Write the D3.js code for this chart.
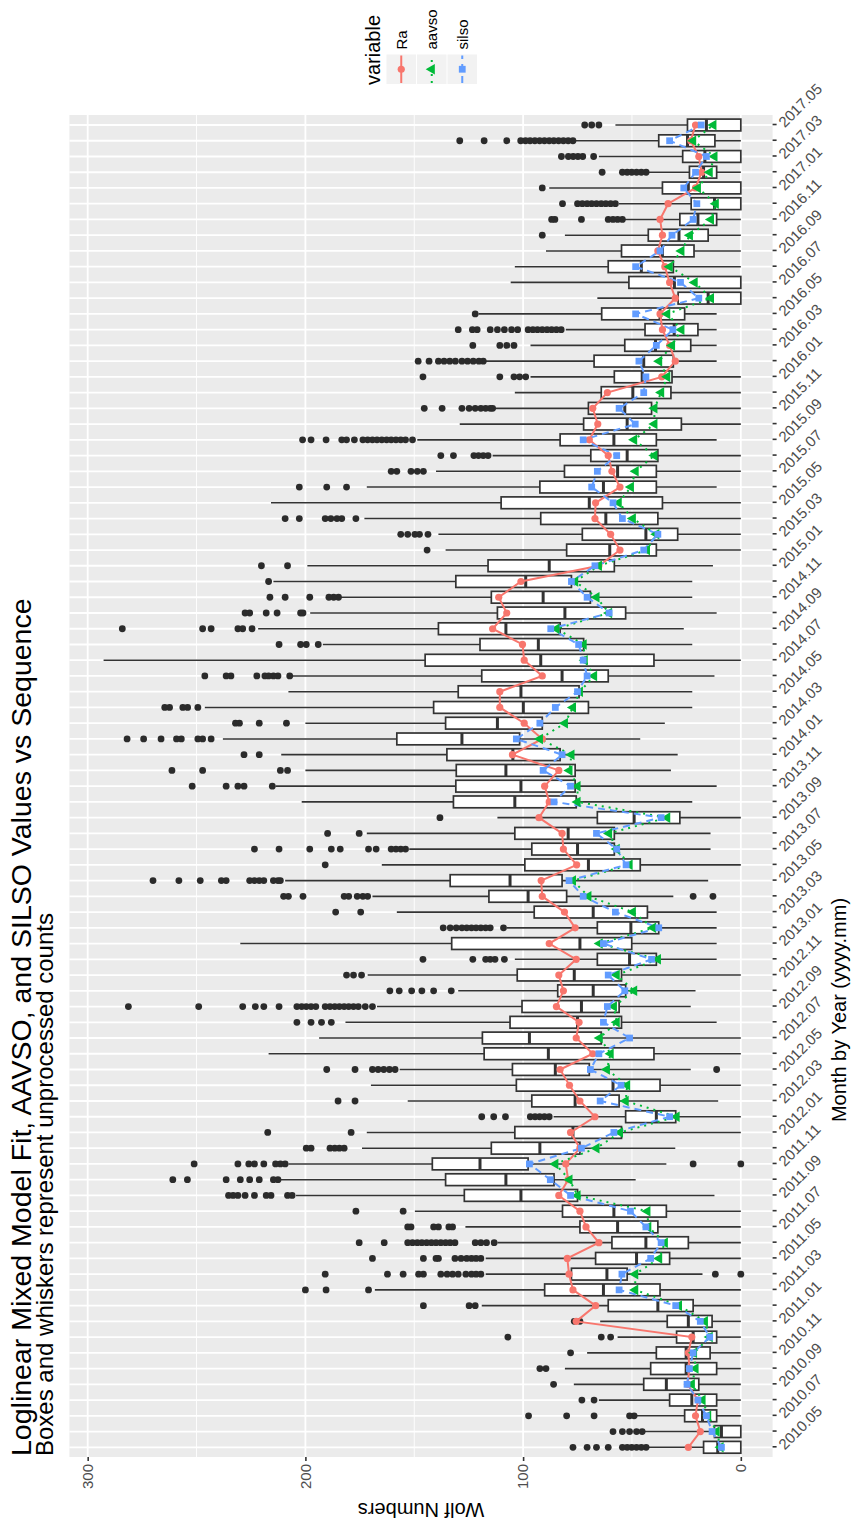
<!DOCTYPE html>
<html><head><meta charset="utf-8">
<script src="https://cdn.jsdelivr.net/npm/d3@7"></script>
<style>
body{margin:0;background:#fff;}
text{font-family:"Liberation Sans",Arial,Helvetica,sans-serif;}
</style></head>
<body>
<script>
const months = ["2010.05","2010.06","2010.07","2010.08","2010.09","2010.10","2010.11","2010.12",
"2011.01","2011.02","2011.03","2011.04","2011.05","2011.06","2011.07","2011.08","2011.09","2011.10","2011.11","2011.12",
"2012.01","2012.02","2012.03","2012.04","2012.05","2012.06","2012.07","2012.08","2012.09","2012.10","2012.11","2012.12",
"2013.01","2013.02","2013.03","2013.04","2013.05","2013.06","2013.07","2013.08","2013.09","2013.10","2013.11","2013.12",
"2014.01","2014.02","2014.03","2014.04","2014.05","2014.06","2014.07","2014.08","2014.09","2014.10","2014.11","2014.12",
"2015.01","2015.02","2015.03","2015.04","2015.05","2015.06","2015.07","2015.08","2015.09","2015.10","2015.11","2015.12",
"2016.01","2016.02","2016.03","2016.04","2016.05","2016.06","2016.07","2016.08","2016.09","2016.10","2016.11","2016.12",
"2017.01","2017.02","2017.03","2017.04","2017.05"];

const whiskLo = [0,0,0,0,0,0,0,0,0,0,0,17.6,0,0,0,0,12.1,48.3,34.2,30.1,0,0,10.4,0,23.0,0,0,11.1,23.0,20.8,0,11.1,11.1,11.1,11.1,31.0,15.0,0,13.9,13.9,0,22.3,11.1,32.1,29.0,46.2,34.9,22.3,22.3,12.1,0,22.3,26.2,11.1,22.3,22.3,12.8,0,0,0,0,11.1,0,0,11.1,0,0,0,0,11.1,11.1,11.1,11.1,0,0,0,0,0,0,0,0,0,0,0,0];
const q1 = [0,0,11.1,11.1,19.3,11.1,14.1,11.1,13.2,21.9,37.1,52.2,32.7,24.1,38.1,34.2,75.0,85.8,97.7,73.9,54.8,29.9,55.9,37.1,69.6,39.9,64.1,54.8,55.9,52.9,54.8,38.8,50.1,37.7,42.9,80.0,82.1,46.2,58.1,58.1,28.0,75.6,76.1,76.1,83.0,101.6,91.2,70.0,74.3,60.9,39.9,72.2,83.0,52.9,69.1,77.8,58.1,38.8,29.0,38.1,36.0,38.8,38.8,38.1,38.8,27.3,41.0,32.1,31.6,31.0,23.0,19.7,25.8,0,0,31.0,21.5,15.0,11.1,0,0,11.1,0,11.9,0];
const median = [10.6,8.9,17.6,22.5,34.2,25.1,25.1,21.9,24.1,38.1,63.1,61.5,47.9,43.6,56.6,58.3,101.0,107.9,119.8,92.3,77.1,38.8,76.1,58.7,85.2,88.4,97.1,75.0,73.2,67.8,76.5,51.1,73.9,50.5,67.8,97.7,106.0,70.0,75.0,79.3,49.0,103.8,101.0,107.9,104.7,128.1,111.8,99.9,101.0,82.1,91.9,93.0,107.9,80.8,90.8,98.8,88.0,60.2,43.6,62.0,69.6,63.1,56.6,52.2,58.3,52.2,53.3,49.6,45.3,44.6,39.2,30.6,37.1,15.0,30.5,45.7,36.0,28.4,19.7,12.1,24.1,17.1,16.5,24.5,15.8];
const q3 = [17.1,12.1,25.8,32.7,44.6,41.4,38.8,29.5,33.8,60.9,90.1,77.8,66.7,59.2,73.9,81.9,127.0,135.6,141.7,114.6,103.8,52.9,96.0,103.1,104.9,117.9,118.7,106.0,100.5,84.1,102.7,65.9,132.8,65.9,94.9,115.7,133.5,99.2,96.0,103.8,65.9,132.0,130.9,130.7,135.0,158.0,135.6,141.1,129.8,119.0,145.0,119.8,138.9,111.8,114.6,130.9,116.1,80.0,72.8,91.9,110.1,92.3,81.0,68.9,83.0,72.2,70.0,64.1,58.1,67.4,53.3,44.0,63.9,28.8,51.4,60.9,54.8,42.5,28.0,22.8,36.0,23.6,26.7,37.7,24.5];
const whiskHi = [42.5,44.6,47.9,65.2,76.7,80.8,70.6,56.6,64.6,119.0,168.1,117.2,117.2,111.8,126.5,149.7,204.3,211.5,207.8,174.0,171.8,86.0,153.0,169.9,156.7,216.9,193.7,181.6,167.1,129.8,171.4,103.8,229.9,107.5,158.0,169.2,209.3,164.9,152.3,171.8,111.8,201.7,213.7,200.0,211.1,237.9,200.0,246.2,207.8,206.1,292.7,192.0,221.7,197.8,184.0,214.7,199.1,135.6,138.9,172.9,215.8,171.8,140.0,114.0,148.6,129.1,112.9,103.8,96.6,117.2,96.6,80.4,120.5,65.9,105.7,103.8,89.5,80.8,53.3,56.0,88.0,42.5,65.2,76.0,57.6];
const outliers = [
[43.5,45.7,47.9,50.1,52.2,54.4,60.9,66.3,70.6,77.1],
[45.3,47.9,51.1,54.4,58.7],
[49.0,51.1,67.4,80.0,97.5],
[67.4,73.0],
[86.0],
[89.5,92.3],
[78.2],
[59.8,64.1,107.0],
[73.9,76.5],
[122.0,124.8,145.8],
[171.0,190.5,200.0],
[0,11.7,119.4,121.6,123.7,126.3,129.8,132.4,134.9,137.8,145.8,148.0,155.1,162.3,190.9],
[119.4,121.6,123.7,125.9,128.5,131.3,138.9,140.0,145.8,169.2],
[113.3,116.8,119.4,122.0,131.3,133.5,135.6,137.8,140.0,142.1,144.3,146.5,148.6,150.8,153.0,163.8,175.3],
[132.4,134.1,138.9,141.1,151.5,153.0],
[155.1,176.8],
[206.1,208.2,215.8,218.0,223.4,227.7,231.0,233.2,235.3],
[212.6,214.7,221.2,225.6,229.9,236.4,254.2,260.9],
[0,21.9,209.3,211.5,213.7,219.1,223.4,226.0,231.0,251.1],
[182.2,184.4,186.5,188.7,197.4,199.6],
[179.0,217.3],
[88.0,90.2,92.4,94.5,96.7,108.1,113.5,119.0],
[177.2,185.0],
[],
[11.1,158.8,161.4,164.0,166.6,169.2,177.2,190.2],
[],
[],
[188.1,192.6,197.4,203.9],
[169.2,172.5,175.7,177.9,180.1,182.2,184.4,186.5,188.7,190.9,195.2,197.4,199.6,201.7,203.9,212.1,219.1,223.0,228.8,249.0,281.3],
[133.0,141.1,146.5,151.2,156.9,161.2],
[174.2,177.9,181.1],
[108.6,112.9,115.1,117.2,123.1,146.0],
[],
[109.0,115.1,117.2,119.4,121.6,123.7,125.9,128.1,130.7,133.5,136.7],
[174.6,186.1],
[12.8,21.9,171.4,173.6,176.2,180.1,182.2,201.1,207.8,210.0],
[211.5,212.6,214.7,219.1,221.2,223.4,225.6,236.4,238.6,248.3,258.1,270.0],
[190.9],
[154.0,156.2,158.4,160.6,167.5,171.0,184.0,188.1,198.0,212.1,223.4],
[175.3,189.8],
[138.2],
[],
[215.2,228.2,231.0,236.4,252.0],
[208.2,211.5,247.2,261.3],
[221.2,228.2],
[243.3,247.2,249.4,257.0,259.2,266.3,274.3,281.9],
[208.7,221.2,230.3,232.1],
[249.4,254.1,256.3,262.4,264.6],
[],
[207.2,212.6,214.7,216.9,218.6,222.3,234.2,236.4,246.2],
[],
[194.1,199.6,202.2,212.1],
[224.5,228.8,231.0,243.3,247.2,284.1],
[201.1,202.2,213.0,218.0,225.6,227.7],
[184.8,187.0,189.2,198.0,209.3,216.3],
[216.9],
[208.2,220.2],
[144.1],
[143.7,147.6,149.7,153.0,156.2],
[176.8,183.3,185.5,188.3,190.9,202.8,209.3],
[],
[181.1,190.2,202.8],
[145.8,148.6,151.5,158.0,160.6],
[116.1,118.3,120.5,122.6,132.0,137.8],
[150.8,154.0,156.2,158.4,160.6,162.7,164.9,167.1,169.2,171.4,173.6,177.5,181.1,183.3,190.5,197.4,201.3],
[],
[114.0,115.1,117.2,119.4,122.0,124.8,128.1,137.2,145.4],
[],
[98.8,101.6,104.2,110.7,146.0],
[118.3,120.3,122.9,125.5,128.1,131.1,133.7,136.3,138.9,143.2,148.2],
[104.2,107.5,110.7,123.1],
[82.5,84.7,86.9,89.0,91.2,93.4,95.5,97.7,102.5,105.3,108.6,111.8,115.1,121.1,123.3,129.8],
[122.0],
[],
[],
[],
[],
[91.2],
[54.4,56.6,58.7,60.9,73.2,85.4,86.9],
[57.6,59.8,62.0,64.1,66.3,68.5,70.6,72.8,75.0,81.9],
[91.2],
[43.5,45.7,47.9,50.1,52.2,54.4,63.7],
[67.6,72.6,74.8,77.0,79.2,82.4],
[77.1,79.3,81.5,83.7,85.9,88.0,90.2,92.4,94.6,96.8,98.9,101.1,107.5,117.9,129.1],
[65.2,68.5,71.7]
];
const ra = [24.1,18.6,20.8,19.7,24.5,23.6,24.1,22.5,75.6,66.7,77.1,78.9,79.7,65.2,71.1,73.9,83.6,79.3,80.4,73.9,78.2,67.0,73.9,78.7,83.0,68.0,75.6,74.3,84.7,81.5,83.6,75.6,88.0,76.1,81.0,91.2,91.7,75.4,81.5,82.1,92.7,88.0,90.1,83.6,104.9,91.2,99.5,110.7,110.7,91.2,99.5,100.3,114.0,107.5,111.2,101.0,65.2,55.5,59.8,67.0,66.7,55.5,59.2,60.9,69.6,65.7,68.0,61.3,36.3,30.1,32.7,36.0,37.1,30.1,32.7,34.9,38.1,36.0,37.1,33.4,20.8,18.0,19.3,23.0,20.8];
const aavso = [9.3,11.1,15.0,17.6,22.5,20.8,21.5,14.3,16.5,28.4,48.5,48.5,37.5,34.9,42.5,42.9,75.0,78.7,85.2,66.3,55.5,29.5,52.9,52.2,61.5,59.8,64.8,57.0,58.3,49.0,57.0,38.1,64.8,40.3,49.6,70.0,77.1,51.1,57.0,60.5,33.8,75.0,75.0,78.7,77.8,92.3,80.8,77.1,73.9,67.4,71.7,72.2,84.7,60.5,66.3,76.1,65.2,43.1,38.8,49.6,56.1,50.5,48.3,39.7,49.0,39.7,39.7,36.6,33.8,37.5,31.6,27.3,33.8,13.7,21.2,32.7,27.3,23.4,13.7,11.5,19.7,14.3,12.1,21.9,12.6];
const silso = [8.9,13.2,15.8,19.7,24.7,23.6,21.9,14.3,18.6,29.9,55.9,54.6,41.4,36.6,43.6,50.7,78.2,87.5,97.1,73.2,58.3,32.7,64.6,55.0,69.1,65.2,51.1,63.1,61.3,53.3,60.9,41.0,63.1,37.7,57.6,72.4,78.9,52.7,57.0,66.3,36.6,85.8,78.2,90.8,82.1,103.1,92.3,85.2,75.0,70.6,72.4,74.5,87.3,60.5,70.6,77.8,67.0,44.6,38.1,54.4,58.7,68.5,65.9,57.0,72.4,48.5,55.9,44.6,43.6,46.8,38.8,31.2,48.3,19.3,27.7,48.3,37.1,31.6,21.9,20.2,26.2,20.8,15.8,32.7,18.2];
const valueTicks = [0,100,200,300];
const minorTicks = [50,150,250];
const seriesNames = ["Ra","aavso","silso"];
const titleText = "Loglinear Mixed Model Fit, AAVSO, and SILSO Values vs Sequence";
const subtitleText = "Boxes and whiskers represent unprocessed counts";

// ---- layout (landscape frame, rotated onto the portrait page) ----
const W = 1522, H = 858;
const P = {l:65, r:1407, t:69.4, b:772.6};
const svg = d3.select("body").append("svg").attr("width",858).attr("height",1522);
svg.append("rect").attr("width",858).attr("height",1522).attr("fill","#fff");
const g = svg.append("g").attr("transform",`translate(0,${W}) rotate(-90)`);

const x = d3.scalePoint().domain(months).range([74.7,1397]);
const y = d3.scaleLinear().domain([-14.6,308.4]).range([P.b,P.t]);
const bw = 0.75*x.step();

const colors = {Ra:"#F8766D", aavso:"#00BA38", silso:"#619CFF"};
const dashes = {Ra:null, aavso:"2,5", silso:"7,5"};
const series = {Ra:ra, aavso:aavso, silso:silso};

// panel
g.append("rect").attr("x",P.l).attr("y",P.t).attr("width",P.r-P.l).attr("height",P.b-P.t).attr("fill","#ebebeb");
g.append("g").selectAll("line").data(minorTicks).join("line")
  .attr("x1",P.l).attr("x2",P.r).attr("y1",d=>y(d)).attr("y2",d=>y(d))
  .attr("stroke","#fff").attr("stroke-width",0.9);
g.append("g").selectAll("line").data(valueTicks).join("line")
  .attr("x1",P.l).attr("x2",P.r).attr("y1",d=>y(d)).attr("y2",d=>y(d))
  .attr("stroke","#fff").attr("stroke-width",1.8);
g.append("g").selectAll("line").data(months).join("line")
  .attr("x1",d=>x(d)).attr("x2",d=>x(d)).attr("y1",P.t).attr("y2",P.b)
  .attr("stroke","#fff").attr("stroke-width",1.8);

// boxplots
const boxes = months.map((m,i)=>({m,i,lo:whiskLo[i],q1:q1[i],med:median[i],q3:q3[i],hi:whiskHi[i],out:outliers[i]}));
const bg = g.append("g");
boxes.forEach(b=>{
  const cx = x(b.m);
  if (b.q1 > b.lo) bg.append("line").attr("x1",cx).attr("x2",cx).attr("y1",y(b.lo)).attr("y2",y(b.q1)).attr("stroke","#333").attr("stroke-width",1.6);
  bg.append("line").attr("x1",cx).attr("x2",cx).attr("y1",y(b.q3)).attr("y2",y(b.hi)).attr("stroke","#333").attr("stroke-width",1.6);
  bg.append("rect").attr("x",cx-bw/2).attr("width",bw).attr("y",y(b.q3)).attr("height",y(b.q1)-y(b.q3))
    .attr("fill","#fff").attr("stroke","#333").attr("stroke-width",1.7);
  bg.append("line").attr("x1",cx-bw/2).attr("x2",cx+bw/2).attr("y1",y(b.med)).attr("y2",y(b.med)).attr("stroke","#333").attr("stroke-width",3);
  b.out.forEach(v=>{
    bg.append("circle").attr("cx",cx).attr("cy",y(v)).attr("r",3.4).attr("fill","#2b2b2b");
  });
});

// series lines
seriesNames.forEach(s=>{
  const line = d3.line().x((d,i)=>x(months[i])).y(d=>y(d));
  g.append("path").datum(series[s]).attr("d",line).attr("fill","none")
   .attr("stroke",colors[s]).attr("stroke-width",2).attr("stroke-dasharray",dashes[s]);
});
function drawPoint(sel, s, cx, cy){
  if (s==="Ra") sel.append("circle").attr("cx",cx).attr("cy",cy).attr("r",3.6).attr("fill",colors[s]);
  else if (s==="aavso") sel.append("path").attr("d",d3.symbol().type(d3.symbolTriangle).size(48)()).attr("transform",`translate(${cx},${cy})`).attr("fill",colors[s]);
  else sel.append("path").attr("d",d3.symbol().type(d3.symbolSquare).size(46)()).attr("transform",`translate(${cx},${cy})`).attr("fill",colors[s]);
}
seriesNames.forEach(s=>{
  const pg = g.append("g");
  series[s].forEach((v,i)=>drawPoint(pg,s,x(months[i]),y(v)));
});

// axes
const xAxis = g.append("g").attr("transform",`translate(0,${P.b})`)
  .call(d3.axisBottom(x).tickSize(4).tickSizeOuter(0).tickFormat((d,i)=> i%2===0 ? d : ""));
xAxis.select(".domain").remove();
xAxis.selectAll("line").attr("stroke","#333").attr("stroke-width",1.6);
xAxis.selectAll("text").attr("transform","rotate(45)").attr("text-anchor","start")
  .attr("x",6).attr("y",6).attr("dy","0.35em").attr("fill","#4d4d4d").style("font-size","15px");

const yAxis = g.append("g").attr("transform",`translate(${P.l},0)`)
  .call(d3.axisLeft(y).tickValues(valueTicks).tickSize(4).tickSizeOuter(0));
yAxis.select(".domain").remove();
yAxis.selectAll("line").attr("stroke","#333").attr("stroke-width",1.6);
yAxis.selectAll("text").attr("x",-7).attr("fill","#4d4d4d").style("font-size","15px");

// axis titles
g.append("text").attr("transform",`translate(19,${(P.t+P.b)/2}) rotate(-90)`).attr("text-anchor","middle")
  .style("font-size","20px").attr("fill","#000").text("Wolf Numbers");
g.append("text").attr("x",512).attr("y",846).attr("text-anchor","middle")
  .style("font-size","20px").attr("fill","#000").text("Month by Year (yyyy.mm)");

// title + subtitle
g.append("text").attr("x",P.l+1).attr("y",30.5).style("font-size","28.5px").attr("fill","#000").text(titleText);
g.append("text").attr("x",P.l+1).attr("y",53).style("font-size","24px").attr("fill","#000").text(subtitleText);

// legend
const lg = g.append("g");
lg.append("text").attr("x",1437).attr("y",380).style("font-size","20px").attr("fill","#000").text("variable");
seriesNames.forEach((s,k)=>{
  const ky = 386.5 + k*30.5, kx = 1438, ks = 29.5;
  lg.append("rect").attr("x",kx).attr("y",ky).attr("width",ks).attr("height",ks).attr("fill","#f2f2f2");
  lg.append("line").attr("x1",kx+1).attr("x2",kx+ks-1).attr("y1",ky+ks/2).attr("y2",ky+ks/2)
    .attr("stroke",colors[s]).attr("stroke-width",2).attr("stroke-dasharray",dashes[s]);
  drawPoint(lg,s,kx+ks/2,ky+ks/2);
  lg.append("text").attr("x",kx+ks+5).attr("y",ky+ks/2).attr("dy","0.35em").style("font-size","15px").attr("fill","#000").text(s);
});
</script>
</body></html>
